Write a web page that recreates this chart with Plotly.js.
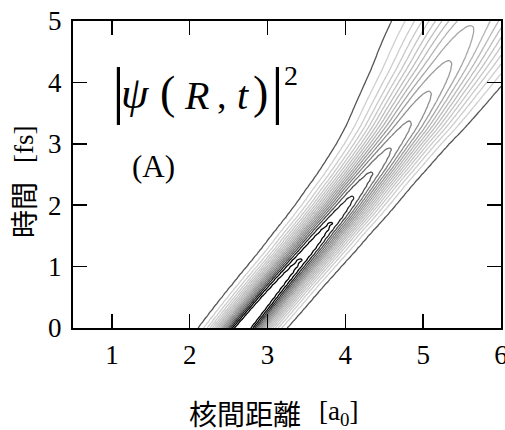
<!DOCTYPE html>
<html>
<head>
<meta charset="utf-8">
<script src="https://cdn.plot.ly/plotly-3.0.1.min.js"></script>
<style>html,body{margin:0;padding:0;background:#fff;}#chart{width:505px;height:430px;}</style>
</head>
<body>
<div id="chart"></div>
<script>
// time rows [fs]
const times = [0.0, 0.1, 0.2, 0.3, 0.4, 0.5, 0.6, 0.7, 0.8, 0.9,
               1.0, 1.1, 1.2, 1.3, 1.4, 1.5, 1.6, 1.7, 1.8, 1.9,
               2.0, 2.1, 2.2, 2.3, 2.4, 2.5, 2.6, 2.7, 2.8, 2.9,
               3.0, 3.1, 3.2, 3.3, 3.4, 3.5, 3.6, 3.7, 3.8, 3.9,
               4.0, 4.1, 4.2, 4.3, 4.4, 4.5, 4.6, 4.7, 4.8, 4.9, 5.0];
// packet centre R(t) [a0]
const center = [2.680, 2.745, 2.810, 2.875, 2.940, 3.005, 3.070, 3.137, 3.204, 3.272,
                3.340, 3.408, 3.476, 3.543, 3.607, 3.671, 3.737, 3.805, 3.872, 3.936,
                4.000, 4.061, 4.121, 4.182, 4.245, 4.308, 4.370, 4.430, 4.490, 4.550,
                4.610, 4.670, 4.730, 4.787, 4.840, 4.892, 4.943, 4.995, 5.046, 5.098,
                5.150, 5.202, 5.254, 5.304, 5.353, 5.400, 5.448, 5.496, 5.545, 5.597, 5.650];
// packet width sigma(t) [a0]
const sigma = [0.233, 0.236, 0.238, 0.240, 0.242, 0.243, 0.245, 0.246, 0.248, 0.250,
               0.251, 0.253, 0.255, 0.257, 0.259, 0.261, 0.263, 0.266, 0.268, 0.271,
               0.273, 0.276, 0.279, 0.282, 0.285, 0.289, 0.294, 0.299, 0.304, 0.310,
               0.316, 0.324, 0.333, 0.341, 0.350, 0.359, 0.368, 0.377, 0.385, 0.394,
               0.403, 0.412, 0.421, 0.431, 0.440, 0.450, 0.458, 0.467, 0.475, 0.484, 0.493];
const peak = [2.000, 1.983, 1.967, 1.950, 1.933, 1.917, 1.900, 1.883, 1.867, 1.850,
              1.833, 1.817, 1.800, 1.783, 1.765, 1.747, 1.730, 1.712, 1.693, 1.669,
              1.645, 1.621, 1.597, 1.571, 1.545, 1.518, 1.492, 1.466, 1.440, 1.413,
              1.388, 1.365, 1.342, 1.319, 1.297, 1.276, 1.255, 1.235, 1.214, 1.194,
              1.173, 1.153, 1.132, 1.112, 1.093, 1.075, 1.058, 1.040, 1.023, 1.005, 0.988];
// contour levels
const levelStart = 0.1, levelEnd = 1.8, levelStep = 0.1;
// axis ticks
const xTicks = [1, 2, 3, 4, 5, 6];
const yTicks = [0, 1, 2, 3, 4, 5];

// R sample points for the grid
const Rgrid = [];
for (let k = 0; k <= 300; k++) Rgrid.push(+(0.4 + k * 0.02).toFixed(3));

const z = times.map((t, i) => Rgrid.map(r => {
  const u = (r - center[i]) / sigma[i];
  return peak[i] * Math.exp(-0.5 * u * u);
}));

const trace = {
  type: 'contour',
  x: Rgrid, y: times, z: z,
  autocontour: false,
  contours: {start: levelStart, end: levelEnd, size: levelStep, coloring: 'lines'},
  line: {width: 1.3, smoothing: 1.0},
  colorscale: [[0, '#555555'], [1/17, '#cfcfcf'], [4/17, '#c6c6c6'], [8/17, '#b4b4b4'], [9/17, '#a6a6a6'],
               [11/17, '#909090'], [13/17, '#747474'], [14/17, '#505050'], [15/17, '#262626'], [16/17, '#000000'], [1, '#000000']],
  showscale: false,
  hoverinfo: 'skip'
};

const serif = 'Liberation Serif, Times New Roman, serif';
const cjk = 'Noto Sans CJK JP, sans-serif';
function px(x) { return (x - 73) / 428; }
function py(y) { return (328 - y) / 307; }
function ann(text, x, y, size, extra) {
  return Object.assign({text: text, x: px(x), y: py(y), xref: 'paper', yref: 'paper', showarrow: false,
    xanchor: 'center', yanchor: 'middle', font: {family: serif, size: size, color: '#000'}}, extra || {});
}

const axisCommon = {ticks: 'inside', ticklen: 14, tickwidth: 1.5, tickcolor: '#000', showline: true, linewidth: 2,
  linecolor: '#000', mirror: 'ticks', showgrid: false, zeroline: false, ticklabeloverflow: 'allow',
  tickfont: {family: serif, size: 27, color: '#000'}};

const layout = {
  width: 505, height: 430,
  margin: {l: 73, r: 4, t: 21, b: 102, pad: 0},
  paper_bgcolor: '#fff', plot_bgcolor: '#fff',
  showlegend: false,
  xaxis: Object.assign({range: [0.5, 6], tickvals: xTicks, ticktext: xTicks.map(String), ticklabelstandoff: 2}, axisCommon),
  yaxis: Object.assign({range: [0, 5], tickvals: yTicks, ticktext: yTicks.map(String), ticklabelstandoff: 4}, axisCommon),
  annotations: [
    ann('|', 118, 89, 64),
    ann('<i>ψ</i>', 135, 93, 44),
    ann('(', 167, 92, 46),
    ann('<i>R</i>', 196, 95, 40),
    ann(',', 222, 95, 38),
    ann('<i>t</i>', 243, 95, 40),
    ann(')', 260, 92, 46),
    ann('|', 277, 89, 64),
    ann('2', 291, 75, 28),
    ann('(A)', 153, 166, 31),
    ann('核間距離', 245, 413, 28, {font: {family: cjk, size: 28, color: '#000'}}),
    ann('[a<sub>0</sub>]', 338, 413, 27),
    ann('時間', 23, 210, 28, {textangle: -90, font: {family: cjk, size: 28, color: '#000'}}),
    ann('[fs]', 24, 145, 27, {textangle: -90})
  ]
};

Plotly.newPlot('chart', [trace], layout, {staticPlot: true, displayModeBar: false});
</script>
</body>
</html>
